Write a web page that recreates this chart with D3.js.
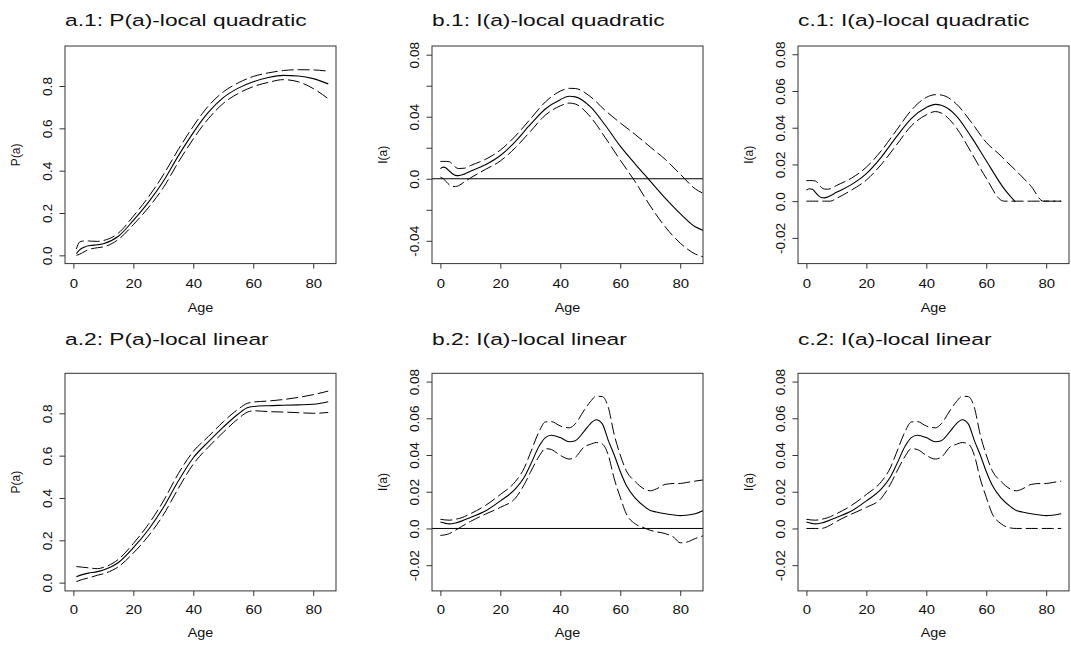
<!DOCTYPE html>
<html>
<head>
<meta charset="utf-8">
<title>P(a) and I(a) local fits</title>
<style>
  body { margin: 0; background: #fff; }
  svg text { font-family: "Liberation Sans", Arial, sans-serif; fill: #111; }
  .box { fill: none; stroke: #333; stroke-width: 1px; }
  .axis line { stroke: #333; }
  .axis path { display: none; }
  .mid { fill: none; stroke: #000; stroke-width: 1.1px; }
  .band { fill: none; stroke: #000; stroke-width: 1px; stroke-dasharray: 12,4; }
  .zero { stroke: #000; stroke-width: 1px; }
</style>
<script src="https://d3js.org/d3.v7.min.js"></script>
</head>
<body>
<div id="chart"></div>
<script>
// ---- data ----
const xTicks = [0, 20, 40, 60, 80];
const aYTicks = [0, 0.2, 0.4, 0.6, 0.8];
const aYLabels = ["0.0", "0.2", "0.4", "0.6", "0.8"];
const b1YTicks = [-0.04, -0.02, 0, 0.02, 0.04, 0.06, 0.08];
const b1YLabels = ["-0.04", "", "0.0", "", "0.04", "", "0.08"];
const iYTicks = [-0.02, 0, 0.02, 0.04, 0.06, 0.08];
const iYLabels = ["-0.02", "0.0", "0.02", "0.04", "0.06", "0.08"];

// a.1  P(a) local quadratic
const agesA1 = [1,2,3,4,5,6,8,10,15,20,25,30,35,40,43,45,50,55,60,65,70,75,80,85];
const midA1 = [0.008,0.025,0.035,0.041,0.045,0.047,0.05,0.055,0.09,0.165,0.25,0.35,0.47,0.58,0.64,0.675,0.745,0.79,0.82,0.84,0.85,0.847,0.835,0.81];
const hiA1  = [0.03,0.062,0.067,0.068,0.068,0.067,0.066,0.07,0.105,0.185,0.275,0.38,0.5,0.61,0.67,0.705,0.772,0.815,0.845,0.862,0.873,0.877,0.876,0.87];
const loA1  = [0.0,0.005,0.012,0.02,0.027,0.031,0.036,0.04,0.075,0.145,0.225,0.32,0.44,0.55,0.61,0.645,0.718,0.765,0.797,0.817,0.83,0.82,0.788,0.74];

// b.1  I(a) local quadratic
const agesB1 = [0,1,2,3,4,5,6,8,10,15,20,25,30,35,40,43,45,50,55,60,65,70,75,80,85,88];
const midB1 = [0.0065,0.0075,0.0068,0.005,0.0032,0.0022,0.002,0.003,0.0048,0.009,0.015,0.024,0.035,0.045,0.051,0.0532,0.0528,0.0465,0.0345,0.021,0.0095,-0.0015,-0.0125,-0.0225,-0.031,-0.0335];
const hiB1  = [0.0112,0.0112,0.0112,0.011,0.0095,0.0075,0.0066,0.0068,0.0085,0.0125,0.0185,0.0275,0.0385,0.0495,0.0565,0.0583,0.0582,0.053,0.044,0.036,0.0285,0.0205,0.0125,0.003,-0.0065,-0.0097];
const loB1  = [0.001,0.0,-0.002,-0.004,-0.005,-0.005,-0.0045,-0.002,0.0005,0.006,0.0115,0.02,0.0305,0.041,0.047,0.0488,0.0482,0.04,0.0265,0.012,-0.002,-0.0175,-0.031,-0.0415,-0.0485,-0.0505];

// c.1  I(a) local quadratic, bounded at zero
const agesC1 = [0,1,2,3,4,5,6,7,8,10,15,20,25,30,35,40,43,45,50,55,60,65,66,70,75,79,85];
const midC1 = [0.006,0.0068,0.0065,0.0048,0.003,0.002,0.0018,0.0022,0.003,0.0048,0.009,0.015,0.024,0.035,0.045,0.051,0.0527,0.0522,0.0465,0.035,0.022,0.009,0.0067,-0.001,-0.012,-0.02,-0.031];
const hiC1  = [0.0112,0.0112,0.0112,0.011,0.0095,0.0075,0.0066,0.0065,0.0068,0.0085,0.0125,0.0185,0.0275,0.0385,0.0495,0.0565,0.058,0.0578,0.053,0.043,0.032,0.0245,0.0228,0.0165,0.008,0,0];
const loC1  = [0,0,0,0,0,0,0,0,0,0.0015,0.006,0.0115,0.02,0.0305,0.041,0.047,0.0488,0.048,0.04,0.0265,0.0125,0.0005,0,0,0,0,0];

// a.2  P(a) local linear
const agesA2 = [1,3,5,8,10,15,20,25,30,35,40,45,50,55,58,60,65,70,75,80,85];
const midA2 = [0.028,0.038,0.045,0.052,0.06,0.095,0.165,0.25,0.355,0.48,0.59,0.665,0.735,0.797,0.826,0.832,0.836,0.838,0.84,0.843,0.855];
const hiA2  = [0.076,0.073,0.07,0.066,0.072,0.11,0.185,0.275,0.385,0.515,0.62,0.69,0.76,0.82,0.847,0.853,0.858,0.865,0.875,0.888,0.905];
const loA2  = [0.005,0.015,0.022,0.035,0.042,0.075,0.14,0.22,0.32,0.445,0.56,0.64,0.71,0.775,0.805,0.812,0.808,0.806,0.803,0.8,0.804];

// b.2  I(a) local linear
const agesB2 = [0,3,5,7,10,15,20,25,28,30,33,35,37,40,43,45,48,50,52,54,56,58,60,62,65,68,70,72,75,78,80,82,85,88];
const midB2 = [0.0035,0.0025,0.003,0.004,0.006,0.0095,0.015,0.0215,0.028,0.0345,0.045,0.0495,0.0508,0.0495,0.0472,0.0478,0.053,0.057,0.0592,0.057,0.048,0.04,0.031,0.0235,0.0165,0.012,0.0098,0.009,0.008,0.0073,0.007,0.0072,0.008,0.01];
const hiB2  = [0.005,0.0045,0.005,0.0058,0.008,0.0125,0.0185,0.0255,0.033,0.041,0.053,0.058,0.0582,0.0558,0.0548,0.057,0.0645,0.069,0.072,0.0718,0.066,0.051,0.04,0.0315,0.0255,0.0215,0.0205,0.0215,0.024,0.0245,0.0245,0.025,0.0258,0.0265];
const loB2  = [-0.0038,-0.0028,-0.001,0.001,0.0038,0.0078,0.0115,0.0165,0.024,0.0305,0.0395,0.0435,0.043,0.0398,0.0378,0.0388,0.0445,0.0458,0.0468,0.046,0.04,0.027,0.017,0.008,0.0025,0.0003,-0.001,-0.0018,-0.0028,-0.005,-0.0078,-0.0075,-0.0055,-0.0038];

// c.2  I(a) local linear, bounded at zero
const agesC2 = [0,3,5,7,10,15,20,25,28,30,33,35,37,40,43,45,48,50,52,54,56,58,60,62,65,68,70,72,75,78,80,82,85];
const midC2 = [0.0035,0.0025,0.003,0.004,0.006,0.0095,0.015,0.0215,0.028,0.0345,0.045,0.0495,0.0508,0.0495,0.0472,0.0478,0.053,0.057,0.0592,0.057,0.048,0.04,0.031,0.0235,0.0165,0.012,0.0098,0.009,0.008,0.0073,0.007,0.0072,0.008];
const hiC2  = [0.005,0.0045,0.005,0.0058,0.008,0.0125,0.0185,0.0255,0.033,0.041,0.053,0.058,0.0582,0.0558,0.0548,0.057,0.0645,0.069,0.072,0.0718,0.066,0.051,0.04,0.0315,0.0255,0.0215,0.0205,0.0215,0.024,0.0245,0.0245,0.025,0.0258];
const loC2  = [0,0,0,0.001,0.0038,0.0078,0.0115,0.0165,0.024,0.0305,0.0395,0.0435,0.043,0.0398,0.0378,0.0388,0.0445,0.0458,0.0468,0.046,0.04,0.027,0.017,0.008,0.0025,0.0003,0,0,0,0,0,0,0];

const panels = [
  {title: "a.1: P(a)-local quadratic", ylab: "P(a)", col: 0, row: 0, yDomain: [-0.039, 0.989], yTicks: aYTicks, yLabels: aYLabels, ages: agesA1, mid: midA1, hi: hiA1, lo: loA1},
  {title: "b.1: I(a)-local quadratic", ylab: "I(a)", col: 1, row: 0, yDomain: [-0.0547, 0.0856], yTicks: b1YTicks, yLabels: b1YLabels, ages: agesB1, mid: midB1, hi: hiB1, lo: loB1, zeroLine: true},
  {title: "c.1: I(a)-local quadratic", ylab: "I(a)", col: 2, row: 0, yDomain: [-0.034, 0.0845], yTicks: iYTicks, yLabels: iYLabels, ages: agesC1, mid: midC1, hi: hiC1, lo: loC1, clipMid: true},
  {title: "a.2: P(a)-local linear", ylab: "P(a)", col: 0, row: 1, yDomain: [-0.039, 0.989], yTicks: aYTicks, yLabels: aYLabels, ages: agesA2, mid: midA2, hi: hiA2, lo: loA2},
  {title: "b.2: I(a)-local linear", ylab: "I(a)", col: 1, row: 1, yDomain: [-0.034, 0.0845], yTicks: iYTicks, yLabels: iYLabels, ages: agesB2, mid: midB2, hi: hiB2, lo: loB2, zeroLine: true},
  {title: "c.2: I(a)-local linear", ylab: "I(a)", col: 2, row: 1, yDomain: [-0.034, 0.0845], yTicks: iYTicks, yLabels: iYLabels, ages: agesC2, mid: midC2, hi: hiC2, lo: loC2}
];

// ---- layout ----
const width = 1071, height = 647;
const boxW = 271, boxH = 217.6;
const colX = [65, 432, 798];
const rowY = [46, 373.3];
const titleGap = [20, 28.5];
const xDomain = [-2.8, 87.6];

const svg = d3.select("#chart").append("svg")
    .attr("width", width)
    .attr("height", height);

panels.forEach((p, k) => {
    const g = svg.append("g")
        .attr("transform", `translate(${colX[p.col]},${rowY[p.row]})`);

    const x = d3.scaleLinear().domain(xDomain).range([0, boxW]);
    const y = d3.scaleLinear().domain(p.yDomain).range([boxH, 0]);

    const defs = g.append("defs");
    defs.append("clipPath").attr("id", "box" + k)
        .append("rect").attr("width", boxW).attr("height", boxH);
    defs.append("clipPath").attr("id", "pos" + k)
        .append("rect").attr("width", boxW).attr("height", y(0) + 0.6);

    // axes
    g.append("g").attr("class", "axis")
        .attr("transform", `translate(0,${boxH})`)
        .call(d3.axisBottom(x).tickValues(xTicks).tickSize(5).tickPadding(p.row ? 8.5 : 10))
        .call(a => a.selectAll("text")
            .attr("font-size", 13)
            .attr("fill", "#111")
            .attr("transform", "scale(1.15,1)"));

    g.append("g").attr("class", "axis")
        .call(d3.axisLeft(y).tickValues(p.yTicks).tickSize(5.5)
            .tickFormat((d, i) => p.yLabels[i]))
        .call(a => a.selectAll("text")
            .attr("x", null).attr("dy", null)
            .attr("font-size", 13)
            .attr("fill", "#111")
            .attr("text-anchor", "middle")
            .attr("transform", "translate(-13.5,0) rotate(-90) scale(1.05,1)"));

    if (p.zeroLine) {
        g.append("line").attr("class", "zero")
            .attr("x1", 0).attr("x2", boxW)
            .attr("y1", y(0)).attr("y2", y(0));
    }

    const line = d3.line()
        .x((d, i) => x(p.ages[i]))
        .y(d => y(d))
        .curve(d3.curveMonotoneX);

    const plot = g.append("g").attr("clip-path", `url(#box${k})`);
    plot.append("path").attr("class", "band").attr("d", line(p.hi));
    plot.append("path").attr("class", "band").attr("d", line(p.lo));
    const mid = plot.append("path").attr("class", "mid").attr("d", line(p.mid));
    if (p.clipMid) mid.attr("clip-path", `url(#pos${k})`);

    g.append("rect").attr("class", "box")
        .attr("width", boxW).attr("height", boxH);

    // labels
    g.append("text")
        .attr("transform", `translate(0,${-titleGap[p.row]}) scale(1.34,1)`)
        .attr("font-size", 17)
        .text(p.title);

    g.append("text")
        .attr("transform", `translate(${boxW / 2},${boxH + (p.row ? 46 : 48.4)}) scale(1.2,1)`)
        .attr("text-anchor", "middle")
        .attr("font-size", 12)
        .text("Age");

    g.append("text")
        .attr("transform", `translate(-45.5,${boxH / 2}) rotate(-90)`)
        .attr("text-anchor", "middle")
        .attr("font-size", 12)
        .text(p.ylab);
});
</script>
</body>
</html>
